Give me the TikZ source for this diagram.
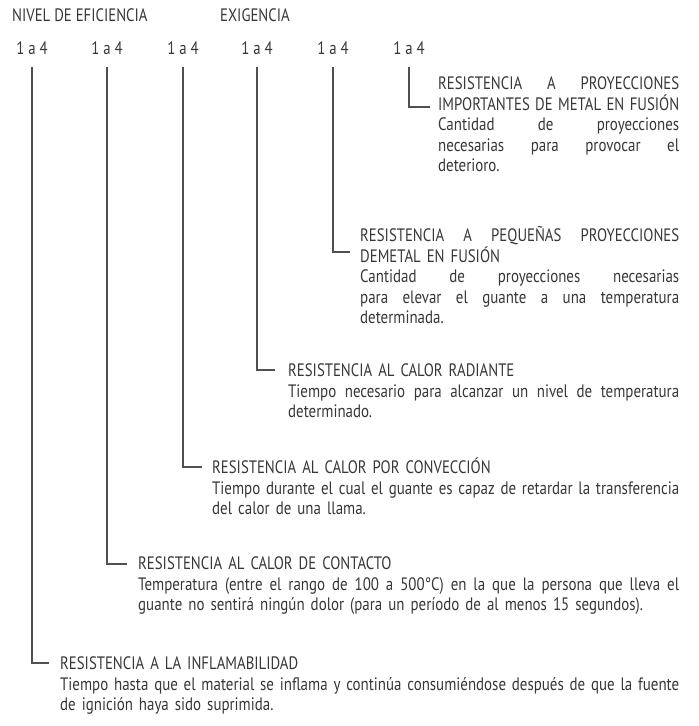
\documentclass[tikz,border=0pt]{standalone}
\usepackage{fontspec}
\setmainfont{PT Sans}[FakeStretch=0.83]
\newfontfamily\capsfont{PT Sans}[FakeStretch=0.82]
\usepackage{xcolor}
\definecolor{ink}{RGB}{55,55,55}
\definecolor{wire}{RGB}{80,80,80}
\tikzset{
  head/.style={anchor=base west,inner sep=0pt,font=\capsfont\fontsize{18}{20}\selectfont,text=ink},
  rng/.style={anchor=base,inner sep=0pt,font=\capsfont\fontsize{18}{20}\selectfont,text=ink},
  desc/.style={anchor=base west,inner sep=0pt,align=left,
    font=\fontsize{18}{20.5}\selectfont,text=ink},
  wire/.style={draw=wire,line width=1.1pt,shorten <=12pt},
}
\newcommand{\ttl}[1]{{\capsfont #1}}
% justified line: spaces stretched to the full width
\newcommand{\jl}[1]{\makebox[\hsize][s]{\spaceskip=0pt\xspaceskip=0pt #1}}

\begin{document}
\begin{tikzpicture}[x=1pt,y=-1pt]
  \useasboundingbox (0,0) rectangle (699,726);
  % header
  \node[head] (nivel) at (12,21.5) {NIVEL DE EFICIENCIA};
  \node[head] (exig) at (220,21.5) {EXIGENCIA};
  % ranges
  \foreach \i/\x in {1/32,2/107,3/183,4/257,5/333,6/409}
    \node[rng] (r\i) at (\x,54.5) {1 a 4};

  % descriptions
  \node[desc,text width=241pt] (d6) at (438,89.5) {\jl{\ttl{RESISTENCIA A PROYECCIONES}}\\
    \jl{\ttl{IMPORTANTES DE METAL EN FUSIÓN}}\\
    \jl{Cantidad de proyecciones}\\ \jl{necesarias para provocar el}\\ deterioro.};
  \node[desc,text width=319pt] (d5) at (360,241.5) {\jl{\ttl{RESISTENCIA A PEQUEÑAS PROYECCIONES}}\\
    \ttl{DEMETAL EN FUSIÓN}\\
    \jl{Cantidad de proyecciones necesarias}\\ \jl{para elevar el guante a una temperatura}\\ determinada.};
  \node[desc,text width=391pt] (d4) at (288,376.5) {\ttl{RESISTENCIA AL CALOR RADIANTE}\\
    \jl{Tiempo necesario para alcanzar un nivel de temperatura}\\ determinado.};
  \node[desc,text width=467pt] (d3) at (212,473.5) {\ttl{RESISTENCIA AL CALOR POR CONVECCIÓN}\\
    \jl{Tiempo durante el cual el guante es capaz de retardar la transferencia}\\ del calor de una llama.};
  \node[desc,text width=541pt] (d2) at (138,569.5) {\ttl{RESISTENCIA AL CALOR DE CONTACTO}\\
    \jl{Temperatura (entre el rango de 100 a 500°C) en la que la persona que lleva el}\\
    guante no sentirá ningún dolor (para un período de al menos 15 segundos).};
  \node[desc,text width=619pt] (d1) at (60,669.5) {\ttl{RESISTENCIA A LA INFLAMABILIDAD}\\
    \jl{Tiempo hasta que el material se inflama y continúa consumiéndose después de que la fuente}\\
    de ignición haya sido suprimida.};

  % elbows
  \coordinate (e6) at (430,107);
  \coordinate (e5) at (350,252);
  \coordinate (e4) at (275,370);
  \coordinate (e3) at (202,467);
  \coordinate (e2) at (127,564);
  \coordinate (e1) at (49,663);
  \foreach \i in {1,...,6}
    \draw[wire] (r\i.south) |- (e\i);
\end{tikzpicture}
\end{document}
